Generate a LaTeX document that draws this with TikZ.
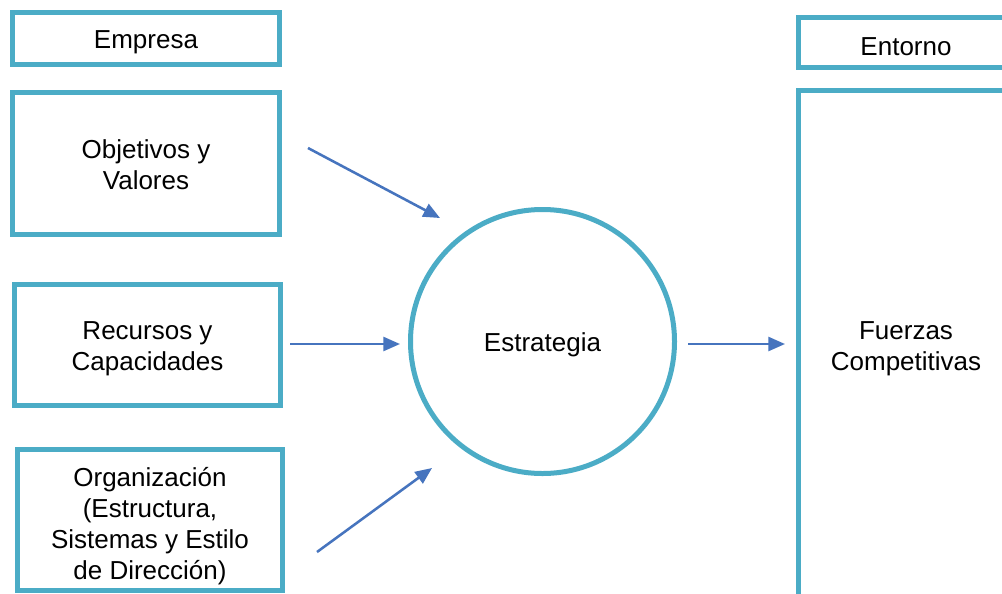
\documentclass[tikz,border=0pt]{standalone}
\usepackage{fontspec}
\setmainfont{Liberation Sans}
\usetikzlibrary{arrows.meta}
\definecolor{boxc}{HTML}{4BACC6}
\definecolor{arrc}{HTML}{4674BE}
\begin{document}
\begin{tikzpicture}[x=0.75pt,y=-0.75pt,
  box/.style={draw=boxc, line width=3.75pt, rectangle, inner sep=0pt},
  txt/.style={inner sep=0pt, align=center, font=\fontsize{19.5}{23.3}\selectfont},
  arr/.style={draw=arrc, line width=1.9pt, -{Triangle[length=12.5pt,width=10.5pt]}}]
\useasboundingbox (0,0) rectangle (1002,593);
\clip (0,0) rectangle (1002,593);
\fill[white] (0,0) rectangle (1002,593);
\node[box, minimum width=200.25pt, minimum height=39pt] (emp) at (146,38.5) {};
\node[box, minimum width=200.25pt, minimum height=106.5pt] (obj) at (146,163.5) {};
\node[box, minimum width=199.5pt, minimum height=90.75pt] (rec) at (147.5,345) {};
\node[box, minimum width=198.75pt, minimum height=105.4pt] (org) at (150,519.75) {};
\node[box, minimum width=161.25pt, minimum height=37.5pt] (ent) at (906,42.5) {};
\node[box, minimum width=161.25pt, minimum height=382.1pt] (fue) at (906,345.25) {};
\node[box, circle, minimum size=198pt] (est) at (542.5,341.5) {};
\node[txt] (empt) at ([yshift=-3pt]emp.center) {Empresa};
\node[txt] (objt) at ([yshift=-0.7pt]obj.center) {Objetivos y\\Valores};
\node[txt] (rect) at ([yshift=-2.5pt]rec.center) {Recursos y\\Capacidades};
\node[txt] (orgt) at ([yshift=-4.5pt]org.center) {Organización\\(Estructura,\\Sistemas y Estilo\\de Dirección)};
\node[txt] (entt) at ([yshift=-3pt]ent.center) {Entorno};
\node[txt] (fuet) at ([yshift=-2.5pt]fue.center) {Fuerzas\\Competitivas};
\node[txt] (estt) at ([yshift=-2.3pt]est.center) {Estrategia};
\coordinate (a1s) at (308,148);
\coordinate (a1e) at (440,218);
\coordinate (a2s) at (290,344);
\coordinate (a2e) at (400,344);
\coordinate (a3s) at (317,552);
\coordinate (a3e) at (432,468);
\coordinate (a4s) at (688,344);
\coordinate (a4e) at (785,344);
\draw[arr] (a1s) -- (a1e);
\draw[arr] (a2s) -- (a2e);
\draw[arr] (a3s) -- (a3e);
\draw[arr] (a4s) -- (a4e);
\end{tikzpicture}
\end{document}
